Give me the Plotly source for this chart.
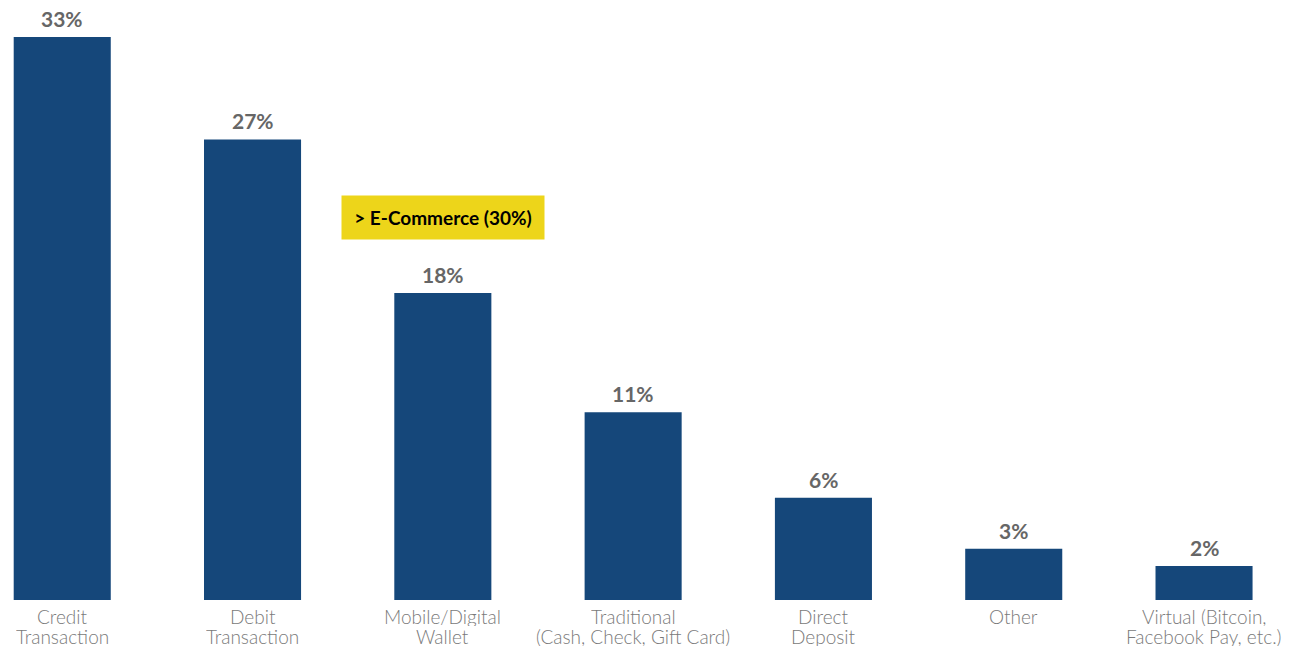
import plotly.graph_objects as go

categories = [
    "Credit<br>Transaction",
    "Debit<br>Transaction",
    "Mobile/Digital<br>Wallet",
    "Traditional<br>(Cash, Check, Gift Card)",
    "Direct<br>Deposit",
    "Other",
    "Virtual (Bitcoin,<br>Facebook Pay, etc.)",
]
shares = [33, 27, 18, 11, 6, 3, 2]
callout_text = "> E-Commerce (30%)"
callout_y = 22.4

BAR_COLOR = "#15477A"
FONT = "Lato"
LABEL_LINE_GAP = 20  # px between category label lines

xs = list(range(len(categories)))

fig = go.Figure(
    go.Bar(
        x=xs,
        y=shares,
        width=0.51,
        marker=dict(color=BAR_COLOR, line=dict(width=0)),
        hoverinfo="skip",
    )
)

# value labels above bars
for x, v in zip(xs, shares):
    fig.add_annotation(
        x=x, y=v, text=f"<b>{v}%</b>", showarrow=False,
        yanchor="bottom", yshift=4,
        font=dict(family=FONT, size=21, color="#666666"),
    )

# category labels under the baseline, one annotation per line for tight leading
for x, cat in zip(xs, categories):
    for i, line in enumerate(cat.split("<br>")):
        fig.add_annotation(
            x=x, y=0, text=line, showarrow=False,
            yanchor="middle", yshift=-16 - i * LABEL_LINE_GAP,
            height=LABEL_LINE_GAP - 1, borderpad=0,
            font=dict(family=FONT, size=19, color="#7A7A7A", weight=300),
        )

# highlighted callout
fig.add_annotation(
    x=2, y=callout_y, text=f"<b>{callout_text}</b>", showarrow=False,
    xanchor="center", yanchor="middle",
    width=200, height=41, bgcolor="#EDD51A",
    font=dict(family=FONT, size=19, color="#000000"),
)

fig.update_layout(
    width=1295, height=647,
    margin=dict(l=0, r=0, t=0, b=47, autoexpand=False),
    plot_bgcolor="white", paper_bgcolor="white",
    showlegend=False,
    xaxis=dict(
        range=[-0.327, 6.478],
        tickvals=xs, showticklabels=False,
        showgrid=False, zeroline=False, showline=False,
        ticks="", automargin=False, fixedrange=True,
    ),
    yaxis=dict(
        range=[0, 35.17], visible=False, fixedrange=True,
    ),
)

fig.write_html("out.html")
